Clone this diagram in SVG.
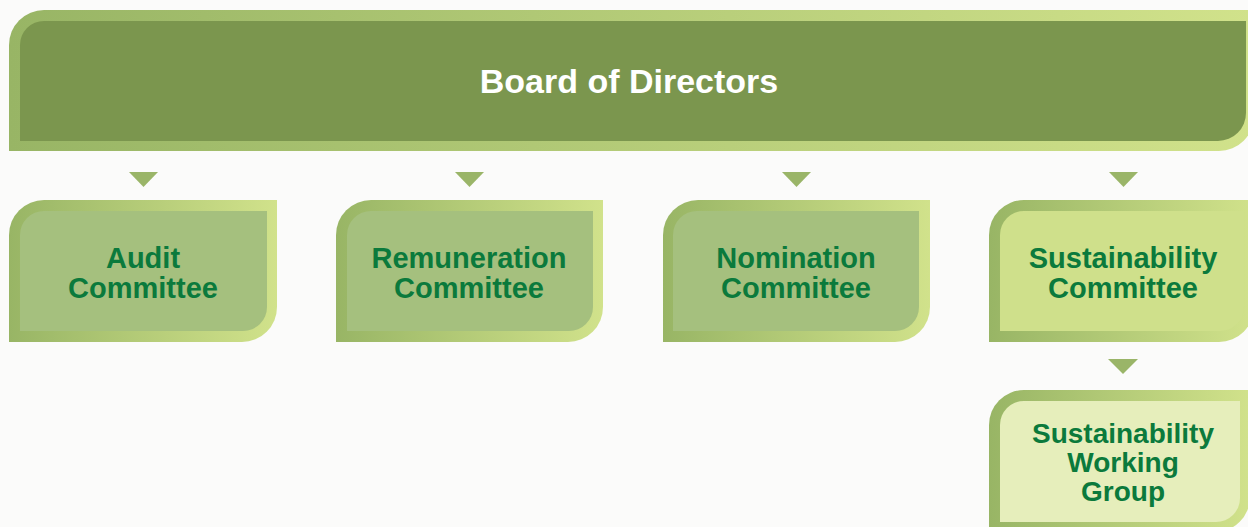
<svg xmlns="http://www.w3.org/2000/svg" width="1248" height="527" viewBox="0 0 1248 527">
<defs>
<linearGradient id="rim" x1="0" y1="0" x2="1" y2="0">
<stop offset="0" stop-color="#98b565"/>
<stop offset="1" stop-color="#d1e28b"/>
</linearGradient>
</defs>
<style>
.rim{fill:url(#rim);}
.board{fill:#7b964e;}
.mid{fill:#a5c07e;}
.sc{fill:#cfe08b;}
.wg{fill:#e6eebb;}
.arrow{fill:#9ab568;}
.t{font-family:"Liberation Sans",Arial,sans-serif;font-weight:bold;font-size:29px;fill:#0b7a3c;text-anchor:middle;}
.t2{font-size:28px;}
.tt{font-family:"Liberation Sans",Arial,sans-serif;font-weight:bold;font-size:34px;fill:#ffffff;text-anchor:middle;}
</style>
<rect width="1248" height="527" fill="#fbfbfa"/>

<g id="connectors">
<polygon class="arrow" points="129,172 158,172 143.5,187"/>
<polygon class="arrow" points="455,172 484,172 469.5,187"/>
<polygon class="arrow" points="782,172 811,172 796.5,187"/>
<polygon class="arrow" points="1109,172 1138,172 1123.5,187"/>
<polygon class="arrow" points="1108,359 1138,359 1123,374"/>
</g>

<g id="board">
<path class="rim" d="M9,45 A35,35 0 0 1 44,10 L1254,10 L1254,116 A35,35 0 0 1 1219,151 L9,151 Z"/>
<path class="board" d="M20,45 A24,24 0 0 1 44,21 L1246,21 L1246,113 A28,28 0 0 1 1218,141 L20,141 Z"/>
<text class="tt" x="629" y="93">Board of Directors</text>
</g>

<g id="audit">
<path class="rim" d="M9,235 A35,35 0 0 1 44,200 L277,200 L277,307 A35,35 0 0 1 242,342 L9,342 Z"/>
<path class="mid" d="M20,235 A24,24 0 0 1 44,211 L267,211 L267,307 A24,24 0 0 1 243,331 L20,331 Z"/>
<text class="t" x="143" y="268">Audit</text>
<text class="t" x="143" y="298">Committee</text>
</g>

<g id="remuneration">
<path class="rim" d="M336,235 A35,35 0 0 1 371,200 L603,200 L603,307 A35,35 0 0 1 568,342 L336,342 Z"/>
<path class="mid" d="M347,235 A24,24 0 0 1 371,211 L593,211 L593,307 A24,24 0 0 1 569,331 L347,331 Z"/>
<text class="t" x="469" y="268">Remuneration</text>
<text class="t" x="469" y="298">Committee</text>
</g>

<g id="nomination">
<path class="rim" d="M663,235 A35,35 0 0 1 698,200 L930,200 L930,307 A35,35 0 0 1 895,342 L663,342 Z"/>
<path class="mid" d="M673,235 A24,24 0 0 1 697,211 L919,211 L919,307 A24,24 0 0 1 895,331 L673,331 Z"/>
<text class="t" x="796" y="268">Nomination</text>
<text class="t" x="796" y="298">Committee</text>
</g>

<g id="sustainability">
<path class="rim" d="M989,235 A35,35 0 0 1 1024,200 L1254,200 L1254,307 A35,35 0 0 1 1219,342 L989,342 Z"/>
<path class="sc" d="M1000,235 A24,24 0 0 1 1024,211 L1244,211 L1244,307 A24,24 0 0 1 1220,331 L1000,331 Z"/>
<text class="t" x="1123" y="268">Sustainability</text>
<text class="t" x="1123" y="298">Committee</text>
</g>

<g id="working-group">
<path class="rim" d="M989,425 A35,35 0 0 1 1024,390 L1250,390 L1250,497 A35,35 0 0 1 1215,532 L989,532 Z"/>
<path class="wg" d="M1000,425 A24,24 0 0 1 1024,401 L1240,401 L1240,498 A24,24 0 0 1 1216,522 L1000,522 Z"/>
<text class="t t2" x="1123" y="443">Sustainability</text>
<text class="t t2" x="1123" y="472">Working</text>
<text class="t t2" x="1123" y="501">Group</text>
</g>
</svg>
